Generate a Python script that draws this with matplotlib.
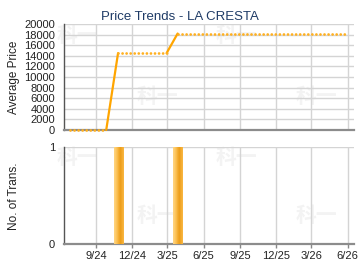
import matplotlib
matplotlib.use("Agg")
import numpy as np
import pandas as pd
import matplotlib.pyplot as plt
import matplotlib.dates as mdates
from matplotlib.ticker import FuncFormatter

plt.rcParams['font.family'] = ['Liberation Sans', 'DejaVu Sans']

# monthly average price (dotted = carried forward, solid = month with a sale)
months = pd.date_range('2024-06-27', periods=24, freq=pd.DateOffset(months=1))
prices = [0, 0, 0, 0,
          14500, 14500, 14500, 14500, 14500,
          18200, 18200, 18200, 18200, 18200, 18200, 18200, 18200,
          18200, 18200, 18200, 18200, 18200, 18200, 18200]

trans_dates = pd.to_datetime(['2024-10-27', '2025-03-27'])
trans_counts = [1, 1]

price_ticks = list(range(0, 20001, 2000))
title = "Price Trends - LA CRESTA"

xmin, xmax = pd.Timestamp('2024-06-12'), pd.Timestamp('2026-06-17')

W, H = 360, 270
fig = plt.figure(figsize=(W / 100, H / 100), dpi=100)

def box(l, t, r, b):
    return [l / W, 1 - b / H, (r - l) / W, (b - t) / H]

ax1 = fig.add_axes(box(64, 24, 354, 130))
ax2 = fig.add_axes(box(64, 147, 354, 244))

# faint watermark, behind the axes
for (x, y) in [(77, 36), (236, 36), (157, 96), (316, 96),
               (77, 157), (236, 157), (157, 216), (316, 216)]:
    fig.text(x / W, 1 - y / H, "科一", family=['Noto Sans CJK SC', 'DejaVu Sans'],
             fontsize=15, fontweight='bold', color='#f3f3f3',
             ha='center', va='center', zorder=-5)

grid_c = '#d4d4d4'
for ax in (ax1, ax2):
    ax.set_facecolor('none')
    ax.set_xlim(xmin, xmax)
    ax.grid(True, color=grid_c, linewidth=1)
    ax.set_axisbelow(True)
    for s in ('top', 'right'):
        ax.spines[s].set_visible(False)
    ax.spines['left'].set_color('#555555')
    ax.spines['left'].set_linewidth(1)
    ax.spines['bottom'].set_color('#8c8c8c')
    ax.spines['bottom'].set_linewidth(1.6)
    ax.xaxis.set_major_locator(mdates.MonthLocator(bymonth=[3, 6, 9, 12]))
    ax.xaxis.set_major_formatter(FuncFormatter(
        lambda v, p: "%d/%s" % (mdates.num2date(v).month, mdates.num2date(v).strftime('%y'))))
    ax.tick_params(axis='y', length=0, pad=6.5, labelsize=8, colors='#222222')

# price panel
ax1.set_ylim(0, 20000)
ax1.set_yticks(price_ticks)
ax1.tick_params(axis='x', length=0, labelbottom=False)

sale_months = set(trans_dates)
dot_x, dot_y = [], []
for i in range(1, len(months)):
    if months[i] in sale_months:
        ax1.plot(months[i - 1:i + 1], prices[i - 1:i + 1], color='#FFA500',
                 linewidth=1.6, solid_capstyle='round', zorder=4, clip_on=False)
        dot_x += [months[i - 1], months[i]]
        dot_y += [np.nan, np.nan]
    else:
        dot_x += [months[i - 1], months[i]]
        dot_y += [prices[i - 1], prices[i]]
ax1.plot(dot_x, dot_y, color='#FFB020', linewidth=2.0,
         linestyle=(0, (0.01, 1.45)), dash_capstyle='round', zorder=4,
         clip_on=False)

# transactions panel
ax2.set_ylim(0, 1)
ax2.set_yticks([0, 1])
ax2.tick_params(axis='x', length=3, width=1, color='#888888', pad=2,
                labelsize=8, labelcolor='#222222')

bars = ax2.bar(trans_dates, trans_counts, width=23, color='#F8B540', zorder=3)
grad = np.array([[0.0, 0.2, 0.45, 0.7, 0.85, 0.72, 0.55]])
cmap = matplotlib.colors.LinearSegmentedColormap.from_list(
    'bar', ['#FFD27A', '#F9B844', '#E8940A'])
for b in bars:
    x0 = b.get_x()
    im = ax2.imshow(grad, extent=[x0, x0 + b.get_width(), 0, b.get_height()],
                    aspect='auto', cmap=cmap, vmin=0, vmax=1, zorder=3,
                    interpolation='bilinear')
    im.set_clip_path(b)
ax2.set_xlim(xmin, xmax)
ax2.set_ylim(0, 1)

fig.text(0.5, 1 - 20 / H, title, ha='center', va='baseline',
         fontsize=9.5, color='#1F3B66')
fig.text(14 / W, 1 - 77 / H, "Average Price", rotation=90,
         ha='center', va='center', fontsize=8.5, color='#222222')
fig.text(14 / W, 1 - 196 / H, "No. of Trans.", rotation=90,
         ha='center', va='center', fontsize=8.5, color='#222222')

fig.savefig('out.png', dpi=100)
